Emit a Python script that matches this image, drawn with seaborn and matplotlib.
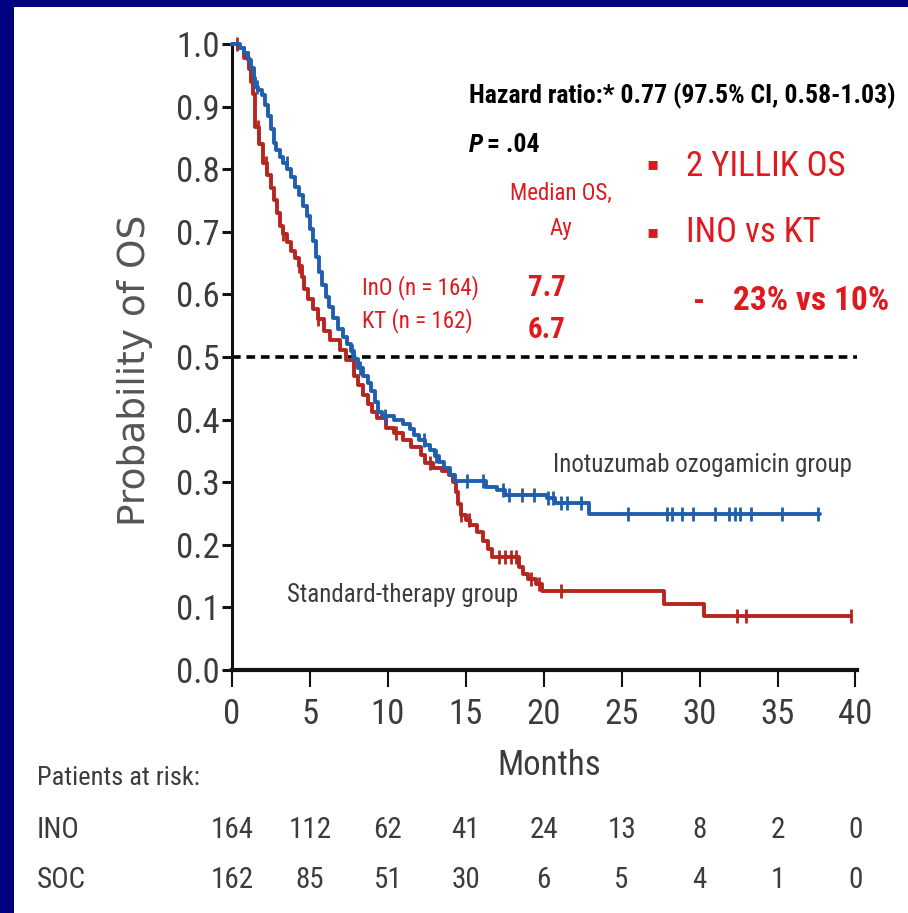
import numpy as np
import pandas as pd
import matplotlib
matplotlib.use("Agg")
import matplotlib.pyplot as plt
import seaborn as sns
from matplotlib.patches import Rectangle
from matplotlib.transforms import blended_transform_factory

# ---------------- data ----------------
ino_t = [0, 0.5, 0.8, 1.0, 1.2, 1.4, 1.5, 1.7, 1.9, 2.1, 2.3, 2.5, 2.7, 2.85, 3.05, 3.3, 3.55, 3.8,
         4.05, 4.3, 4.55, 4.8, 5.0, 5.2, 5.4, 5.6, 5.8, 6.05, 6.25, 6.5, 6.8, 7.1, 7.4, 7.65, 7.85,
         8.1, 8.4, 8.7, 8.95, 9.15, 9.35, 9.6, 10.4, 11.0, 11.4, 11.7, 12.0, 12.4, 12.7, 13.0, 13.25,
         13.6, 14.0, 14.3, 16.3, 17.0, 17.5, 20.2, 20.7, 22.9, 37.7]
ino_s = [1.0, 0.994, 0.985, 0.975, 0.962, 0.945, 0.932, 0.926, 0.918, 0.903, 0.885, 0.865, 0.842, 0.83,
         0.82, 0.81, 0.8, 0.788, 0.772, 0.758, 0.742, 0.725, 0.705, 0.685, 0.66, 0.636, 0.615, 0.596,
         0.58, 0.563, 0.545, 0.532, 0.52, 0.51, 0.497, 0.483, 0.47, 0.458, 0.445, 0.428, 0.412, 0.406,
         0.4, 0.393, 0.385, 0.375, 0.367, 0.36, 0.352, 0.342, 0.332, 0.322, 0.312, 0.302, 0.293, 0.287,
         0.279, 0.274, 0.267, 0.249, 0.249]
ino_censor = [1.6, 3.5, 7.7, 8.2, 9.8, 12.3, 13.1, 15.1, 16.1, 17.4, 17.8, 18.6, 19.4, 20.3, 20.6,
              21.1, 21.5, 22.4, 25.4, 27.9, 28.2, 28.9, 29.6, 31.0, 31.9, 32.3, 32.6, 33.3, 35.3, 37.6]

soc_t = [0, 0.4, 0.8, 1.1, 1.25, 1.35, 1.45, 1.5, 1.75, 2.0, 2.25, 2.5, 2.7, 2.9, 3.1, 3.3, 3.5, 3.8,
         4.05, 4.3, 4.5, 4.65, 4.9, 5.2, 5.5, 5.9, 6.3, 6.9, 7.3, 7.8, 8.1, 8.4, 8.7, 9.0, 9.3, 9.9,
         10.4, 11.0, 11.5, 12.1, 12.4, 12.9, 13.5, 13.9, 14.2, 14.35, 14.5, 14.7, 15.0, 15.3, 15.7,
         16.1, 16.4, 16.7, 18.4, 18.7, 19.0, 19.5, 19.9, 27.7, 30.3, 39.7]
soc_s = [1.0, 0.993, 0.977, 0.96, 0.94, 0.92, 0.895, 0.868, 0.84, 0.81, 0.79, 0.77, 0.75, 0.73, 0.71,
         0.696, 0.683, 0.67, 0.658, 0.645, 0.628, 0.608, 0.592, 0.576, 0.56, 0.542, 0.527, 0.511,
         0.496, 0.47, 0.455, 0.44, 0.425, 0.412, 0.402, 0.387, 0.378, 0.367, 0.356, 0.343, 0.33,
         0.322, 0.318, 0.311, 0.3, 0.285, 0.265, 0.248, 0.24, 0.232, 0.22, 0.206, 0.193, 0.181,
         0.165, 0.153, 0.145, 0.138, 0.126, 0.106, 0.087, 0.087]
soc_censor = [0.3, 1.0, 1.7, 2.2, 3.3, 4.3, 5.5, 10.5, 12.7, 14.7, 15.2, 17.1, 17.5, 17.9, 18.2,
              19.2, 19.7, 21.1, 32.4, 33.0, 39.7]

risk_months = [0, 5, 10, 15, 20, 25, 30, 35, 40]
risk_ino = [164, 112, 62, 41, 24, 13, 8, 2, 0]
risk_soc = [162, 85, 51, 30, 6, 5, 4, 1, 0]
y_ticks = [0.0, 0.1, 0.2, 0.3, 0.4, 0.5, 0.6, 0.7, 0.8, 0.9, 1.0]

# ---------------- style ----------------
sns.set_style("ticks")
NARROW = ["Liberation Sans Narrow", "Roboto Condensed", "Archivo Narrow", "Asap Condensed",
          "DejaVu Sans"]
plt.rcParams["font.family"] = NARROW

BLUE = "#1f5fae"
RED = "#b5261e"
TXTRED = "#e0191f"
GRAY = "#3c3c3c"

W, H = 908, 913
fig = plt.figure(figsize=(W / 100, H / 100), dpi=100)
fig.patch.set_facecolor("#000080")
fig.patches.append(Rectangle((14 / W, 0), 1, (H - 7) / H, transform=fig.transFigure,
                             facecolor="white", edgecolor="none", zorder=-5))


def P(x, y):
    return x / W, 1 - y / H


ax = fig.add_axes([232 / W, 1 - 670 / H, (857 - 232) / W, (670 - 44) / H])
ax.set_facecolor("none")
ax.set_zorder(2)


def step_value(t_list, s_list, t):
    idx = np.searchsorted(np.asarray(t_list), t, side="right") - 1
    return np.asarray(s_list)[idx]


df_ino = pd.DataFrame({"t": ino_t, "s": ino_s})
df_soc = pd.DataFrame({"t": soc_t, "s": soc_s})
sns.lineplot(data=df_soc, x="t", y="s", ax=ax, color=RED, lw=2.8, drawstyle="steps-post",
             estimator=None, sort=False, clip_on=False, zorder=3)
sns.lineplot(data=df_ino, x="t", y="s", ax=ax, color=BLUE, lw=2.8, drawstyle="steps-post",
             estimator=None, sort=False, clip_on=False, zorder=4)

cs_ino = pd.DataFrame({"t": ino_censor, "s": [step_value(ino_t, ino_s, c) for c in ino_censor]})
cs_soc = pd.DataFrame({"t": soc_censor, "s": [step_value(soc_t, soc_s, c) for c in soc_censor]})
ax.plot(cs_soc["t"], cs_soc["s"], ls="none", marker="|", ms=10, mew=2.0, color=RED, zorder=3,
        clip_on=False)
ax.plot(cs_ino["t"], cs_ino["s"], ls="none", marker="|", ms=10, mew=2.0, color=BLUE, zorder=4,
        clip_on=False)

ax.axhline(0.5, color="black", lw=2.6, ls=(0, (2.4, 1.6)), zorder=2)

ax.set_xlim(0, 40.1)
ax.set_ylim(0, 1.0)
ax.set_xticks(risk_months)
ax.set_xticklabels([str(m) for m in risk_months])
ax.set_yticks(y_ticks)
ax.set_yticklabels([f"{v:.1f}" for v in y_ticks])
ax.set_xlabel("")
ax.set_ylabel("")
sns.despine(ax=ax)
ax.spines["left"].set_linewidth(2.2)
ax.spines["bottom"].set_linewidth(3.0)
ax.spines["left"].set_color("#111")
ax.spines["bottom"].set_color("#111")
ax.tick_params(axis="y", length=7, width=2.2, pad=2, labelsize=25, labelcolor=GRAY, color="#111")
ax.tick_params(axis="x", length=12, width=1.5, pad=8, labelsize=25, labelcolor=GRAY, color="#111")

# axis titles
fig.text(*P(135, 370), "Probability of OS", rotation=90, ha="center", va="center",
         family=["DejaVu Sans"], fontsize=27, color="#555555")
fig.text(*P(549, 765), "Months", ha="center", va="center", fontsize=25, color=GRAY)

# curve labels
ax.text(20.6, 0.328, "Inotuzumab ozogamicin group", ha="left", va="center", fontsize=18,
        color=GRAY)
ax.text(3.5, 0.12, "Standard-therapy group", ha="left", va="center", fontsize=18, color=GRAY)

# annotations
fig.text(*P(469, 96), "Hazard ratio:* 0.77 (97.5% CI, 0.58-1.03)", ha="left", va="center",
         fontsize=18.5, fontweight="bold", color="black")
fig.text(*P(469, 145), "P", ha="left", va="center", fontsize=18.5, fontweight="bold",
         fontstyle="italic", color="black")
fig.text(*P(487, 145), "= .04", ha="left", va="center", fontsize=18.5, fontweight="bold",
         color="black")
fig.text(*P(561, 193), "Median OS,", ha="center", va="center", fontsize=16.5, color=TXTRED)
fig.text(*P(561, 228), "Ay", ha="center", va="center", fontsize=16.5, color=TXTRED)
fig.text(*P(362, 288), "InO (n = 164)", ha="left", va="center", fontsize=16.5, color=TXTRED)
fig.text(*P(362, 321), "KT (n = 162)", ha="left", va="center", fontsize=16.5, color=TXTRED)
fig.text(*P(547, 288), "7.7", ha="center", va="center", fontsize=21, fontweight="bold", color=TXTRED)
fig.text(*P(547, 330), "6.7", ha="center", va="center", fontsize=21, fontweight="bold", color=TXTRED)

fig.text(*P(652, 164), "\u25aa", ha="center", va="center", fontsize=13, family=["DejaVu Sans"],
         color=TXTRED)
fig.text(*P(652, 232), "\u25aa", ha="center", va="center", fontsize=13, family=["DejaVu Sans"],
         color=TXTRED)
fig.text(*P(686, 166), "2 YILLIK OS", ha="left", va="center", fontsize=25, color=TXTRED)
fig.text(*P(686, 232), "INO vs KT", ha="left", va="center", fontsize=25, color=TXTRED)
fig.text(*P(699, 302), "-", ha="center", va="center", fontsize=24, fontweight="bold", color=TXTRED)
fig.text(*P(733, 301), "23% vs 10%", ha="left", va="center", fontsize=24, fontweight="bold",
         color=TXTRED)

# risk table
fig.text(*P(37, 778), "Patients at risk:", ha="left", va="center", fontsize=19, color=GRAY)
fig.text(*P(37, 830), "INO", ha="left", va="center", fontsize=21, color=GRAY)
fig.text(*P(37, 880), "SOC", ha="left", va="center", fontsize=21, color=GRAY)
tr = blended_transform_factory(ax.transData, fig.transFigure)
for m, a, b in zip(risk_months, risk_ino, risk_soc):
    ax.text(m, P(0, 830)[1], str(a), transform=tr, ha="center", va="center", fontsize=21,
            color=GRAY, clip_on=False)
    ax.text(m, P(0, 880)[1], str(b), transform=tr, ha="center", va="center", fontsize=21,
            color=GRAY, clip_on=False)

fig.savefig("out.png", dpi=100, facecolor=fig.get_facecolor())
